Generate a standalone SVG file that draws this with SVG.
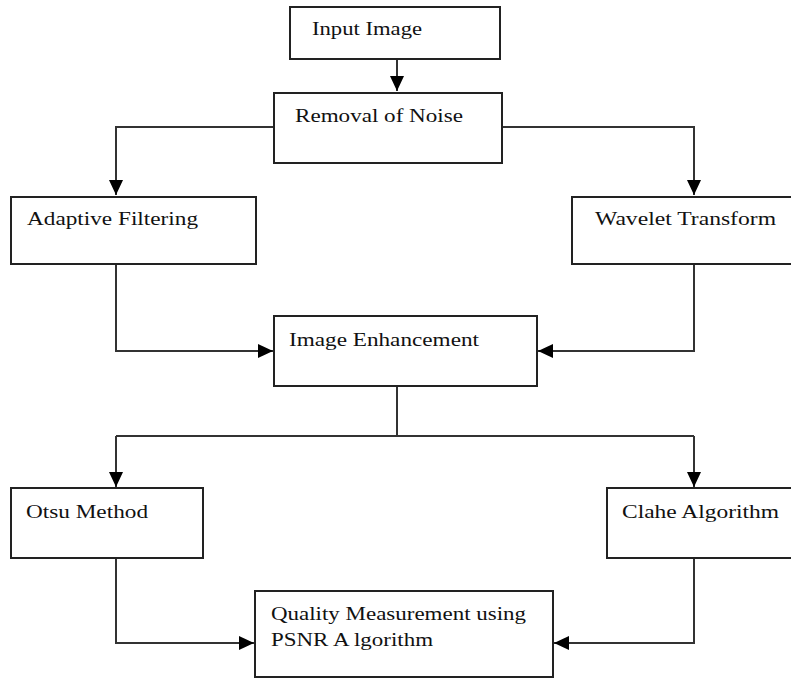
<svg xmlns="http://www.w3.org/2000/svg" width="791" height="679" viewBox="0 0 791 679">
<style>
.box{fill:#fff;stroke:#222;stroke-width:2}
.lbl{font-family:"Liberation Serif","Times New Roman",serif;font-size:19px;fill:#111}
.edge{fill:none;stroke:#333;stroke-width:2}
</style>
<defs>
<marker id="arr" markerUnits="userSpaceOnUse" markerWidth="16" markerHeight="14" viewBox="0 0 16 14" refX="15" refY="7" orient="auto">
<path d="M0,0 L15,7 L0,14 Z" fill="#000"/>
</marker>
</defs>
<rect width="791" height="679" fill="#fff"/>
<g id="connectors">
<path class="edge" d="M397,59 V91" marker-end="url(#arr)"/>
<path class="edge" d="M274,127 H116 V195" marker-end="url(#arr)"/>
<path class="edge" d="M502,127 H694 V195" marker-end="url(#arr)"/>
<path class="edge" d="M116,264 V351 H273" marker-end="url(#arr)"/>
<path class="edge" d="M694,264 V351 H538" marker-end="url(#arr)"/>
<path class="edge" d="M397,386 V436"/>
<path class="edge" d="M116,436 H694"/>
<path class="edge" d="M116,436 V487" marker-end="url(#arr)"/>
<path class="edge" d="M694,436 V487" marker-end="url(#arr)"/>
<path class="edge" d="M116,558 V643 H254" marker-end="url(#arr)"/>
<path class="edge" d="M694,558 V643 H554" marker-end="url(#arr)"/>
</g>
<g id="input">
<rect class="box" x="290" y="7" width="210" height="52"/>
<text class="lbl" x="312" y="35" textLength="110" lengthAdjust="spacingAndGlyphs">Input Image</text>
</g>
<g id="noise">
<rect class="box" x="274" y="93" width="228" height="70"/>
<text class="lbl" x="295" y="122" textLength="168" lengthAdjust="spacingAndGlyphs">Removal of Noise</text>
</g>
<g id="adaptive">
<rect class="box" x="11" y="197" width="245" height="67"/>
<text class="lbl" x="27" y="225" textLength="171" lengthAdjust="spacingAndGlyphs">Adaptive Filtering</text>
</g>
<g id="wavelet">
<rect class="box" x="572" y="197" width="224" height="67"/>
<text class="lbl" x="595" y="225" textLength="181" lengthAdjust="spacingAndGlyphs">Wavelet Transform</text>
</g>
<g id="enhance">
<rect class="box" x="274" y="316" width="263" height="70"/>
<text class="lbl" x="289" y="346" textLength="190" lengthAdjust="spacingAndGlyphs">Image Enhancement</text>
</g>
<g id="otsu">
<rect class="box" x="11" y="488" width="192" height="70"/>
<text class="lbl" x="26" y="518" textLength="122" lengthAdjust="spacingAndGlyphs">Otsu Method</text>
</g>
<g id="clahe">
<rect class="box" x="607" y="488" width="189" height="70"/>
<text class="lbl" x="622" y="518" textLength="157" lengthAdjust="spacingAndGlyphs">Clahe Algorithm</text>
</g>
<g id="quality">
<rect class="box" x="255" y="591" width="298" height="86"/>
<text class="lbl" x="271" y="620" textLength="255" lengthAdjust="spacingAndGlyphs">Quality Measurement using</text>
<text class="lbl" x="271" y="646" textLength="162" lengthAdjust="spacingAndGlyphs">PSNR A lgorithm</text>
</g>
</svg>
